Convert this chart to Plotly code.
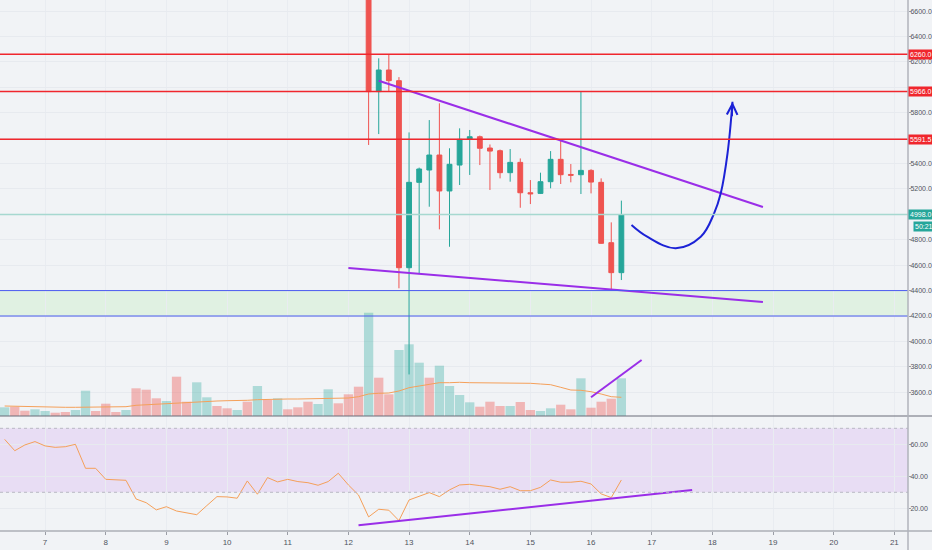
import datetime as dt
import plotly.graph_objects as go

# %% data (4h bars, index 0 = 12 Mar 00:00)
base = dt.datetime(2020, 3, 12)

candle_start = 2
c_open = [6950, 5966, 6136, 6052, 4580, 5252, 5349, 5467, 5184, 5388, 5590, 5611, 5522,
          5501, 5328, 5409, 5170, 5165, 5257, 5433, 5314, 5312, 5346, 5252, 4777, 4541]
c_high = [7000, 6228, 6262, 6080, 5645, 5368, 5742, 5874, 5520, 5677, 5664, 5620, 5550,
          5510, 5514, 5440, 5270, 5328, 5498, 5580, 5396, 5966, 5355, 5283, 4937, 5108]
c_low = [5546, 5632, 5970, 4418, 3740, 4536, 5060, 4882, 4745, 5231, 5310, 5388, 5192,
         5283, 5257, 5052, 5081, 5160, 5205, 5239, 5252, 5160, 5165, 4768, 4410, 4483]
c_close = [5966, 6136, 6052, 4580, 5252, 5357, 5467, 5184, 5394, 5590, 5611, 5520, 5498,
           5328, 5409, 5170, 5162, 5257, 5433, 5312, 5308, 5346, 5254, 4772, 4541, 4998]

vol_start = -34
volume = [8.7, 9.3, 5.3, 6.7, 5.0, 3.3, 4.0, 6.0, 25.3, 5.0, 12.3, 4.0, 6.0, 27.7, 26.3,
          17.7, 15.0, 39.3, 14.3, 33.7, 18.7, 10.0, 7.7, 6.0, 14.3, 30.0, 16.0, 17.7, 6.7,
          8.7, 14.3, 12.0, 26.7, 12.7, 21.7, 29.3, 103.3, 38.3, 21.7, 66.0, 71.7, 53.3, 38.3,
          50.3, 30.0, 21.0, 13.7, 9.3, 14.3, 10.0, 10.0, 14.0, 6.0, 5.0, 7.7, 11.3, 6.7, 37.7,
          8.3, 14.3, 17.3, 37.7]
vol_up = "gurggrrggrrrgrrrgrrggrrgrgrgrrrggrrrgrrgggrggggrrrgrrggrrgrrrg"
vol_ma = [10.0, 9.7, 9.3, 9.0, 9.0, 8.7, 8.7, 8.7, 8.7, 8.7, 8.7, 8.7, 9.3, 10.7, 11.3,
          11.7, 12.7, 13.0, 13.3, 14.0, 14.7, 15.0, 15.3, 15.3, 15.7, 16.3, 16.7, 17.0, 17.0,
          17.0, 17.3, 17.3, 17.7, 18.0, 18.0, 19.3, 22.0, 22.7, 23.0, 25.0, 28.3, 30.0, 32.0,
          33.3, 33.3, 33.7, 33.3, 33.3, 33.3, 33.3, 32.7, 32.7, 32.7, 32.0, 31.3, 28.7, 26.0,
          25.7, 24.3, 22.0, 19.3, 18.7]
rsi = [63.1, 56.0, 59.6, 61.7, 59.0, 58.1, 58.5, 60.0, 45.0, 45.0, 38.1, 37.7, 37.5, 25.8,
       23.5, 19.0, 21.0, 18.3, 17.1, 16.0, 21.7, 27.3, 27.1, 26.3, 37.1, 28.8, 39.2, 36.5,
       38.1, 36.7, 36.0, 34.4, 36.7, 41.9, 34.6, 28.3, 14.6, 19.4, 18.8, 12.3, 25.2, 27.3,
       29.8, 27.3, 31.5, 34.6, 35.0, 34.2, 33.5, 31.9, 33.5, 31.0, 31.0, 33.1, 37.7, 36.3,
       36.3, 36.9, 35.2, 29.0, 26.7, 37.7]

levels_red = [6260.0, 5966.0, 5591.5]
last_price = 4998.0
countdown = "50:21"
zone = [4200.0, 4400.0]
price_ticks = [3600, 3800, 4000, 4200, 4400, 4600, 4800, 5000, 5200, 5400, 5600, 5800,
               6000, 6200, 6400, 6600]
hidden_ticks = [6000]  # covered by the 5966.0 label on the original
rsi_ticks = [20, 40, 60]
rsi_band = [30, 70]
tick_days = list(range(7, 22))

# drawings: (bar index, value) pairs
wedge_top = [(3.0, 6052), (41.0, 5058)]
wedge_bottom = [(0.0, 4578), (41.0, 4310)]
vol_trend = [(24.0, 18.7), (29.0, 56.0)]
rsi_trend = [(1.0, 9.4), (34.0, 31.4)]
arrow_idx = [28.0, 29.55, 32.38, 34.85, 36.17, 36.83, 37.5, 37.99]
arrow_px = [4916, 4824, 4733, 4824, 5008, 5166, 5480, 5886]


def t(i):
    return base + dt.timedelta(hours=4 * i)


UP = "#26a69a"
DOWN = "#ef5350"
BG = "#f1f3f6"
FONT = "Liberation Sans Narrow, Liberation Sans, sans-serif"

c_x = [t(candle_start + k) for k in range(len(c_open))]
v_x = [t(vol_start + k) for k in range(len(volume))]
v_col = ["rgba(38,166,154,0.33)" if d == "g" else "rgba(239,83,80,0.38)" for d in vol_up]

fig = go.Figure()
fig.add_trace(go.Bar(x=v_x, y=volume, marker_color=v_col, marker_line_width=0,
                     width=4 * 3600 * 1000 * 0.92, xaxis="x", yaxis="y"))
fig.add_trace(go.Scatter(x=v_x, y=vol_ma, mode="lines", line=dict(color="#f5a05a", width=1),
                         xaxis="x", yaxis="y"))
fig.add_trace(go.Scatter(x=[t(p[0]) for p in vol_trend], y=[p[1] for p in vol_trend],
                         mode="lines", line=dict(color="#9a2ee8", width=2), xaxis="x", yaxis="y"))
fig.add_trace(go.Candlestick(x=c_x, open=c_open, high=c_high, low=c_low, close=c_close,
                             xaxis="x", yaxis="y3", whiskerwidth=0,
                             increasing=dict(line=dict(color=UP, width=1), fillcolor=UP),
                             decreasing=dict(line=dict(color=DOWN, width=1), fillcolor=DOWN)))
for tr in (wedge_top, wedge_bottom):
    fig.add_trace(go.Scatter(x=[t(p[0]) for p in tr], y=[p[1] for p in tr], mode="lines",
                             line=dict(color="#9a2ee8", width=2), xaxis="x", yaxis="y3"))
fig.add_trace(go.Scatter(x=[t(i) for i in arrow_idx], y=arrow_px, mode="lines",
                         line=dict(color="#1c22d6", width=2, shape="spline", smoothing=1.1),
                         xaxis="x", yaxis="y3"))
fig.add_trace(go.Scatter(x=v_x, y=rsi, mode="lines", line=dict(color="#f5a05a", width=1),
                         xaxis="x", yaxis="y2"))
fig.add_trace(go.Scatter(x=[t(p[0]) for p in rsi_trend], y=[p[1] for p in rsi_trend],
                         mode="lines", line=dict(color="#9a2ee8", width=2), xaxis="x", yaxis="y2"))

split = 1 - 416 / 531
shapes = []
shapes.append(dict(type="rect", xref="x domain", yref="y3", x0=0, x1=1, y0=zone[0], y1=zone[1],
                   fillcolor="#e0f1e2", line_width=0, layer="below"))
for z in zone:
    shapes.append(dict(type="line", xref="x domain", yref="y3", x0=0, x1=1, y0=z, y1=z,
                       line=dict(color="#4a5af0", width=1)))
for lv in levels_red:
    shapes.append(dict(type="line", xref="x domain", yref="y3", x0=0, x1=1, y0=lv, y1=lv,
                       line=dict(color="#f0262d", width=1.5)))
shapes.append(dict(type="line", xref="x domain", yref="y3", x0=0, x1=1, y0=last_price,
                   y1=last_price, line=dict(color="#a6d8d0", width=1.5)))
shapes.append(dict(type="rect", xref="x domain", yref="y2", x0=0, x1=1, y0=rsi_band[0],
                   y1=rsi_band[1], fillcolor="#e8ddf4", line_width=0, layer="below"))
for b in rsi_band:
    shapes.append(dict(type="line", xref="x domain", yref="y2", x0=0, x1=1, y0=b, y1=b,
                       line=dict(color="#b8b8c4", width=1, dash="dot")))
shapes.append(dict(type="line", xref="paper", yref="paper", x0=0, x1=1.03, y0=split, y1=split,
                   line=dict(color="#6a6d78", width=1.2)))
shapes.append(dict(type="line", xref="paper", yref="paper", x0=0, x1=1.03, y0=0, y1=0,
                   line=dict(color="#8a8d96", width=1.2)))
shapes.append(dict(type="line", xref="paper", yref="paper", x0=1, x1=1, y0=-0.04, y1=1,
                   line=dict(color="#b0b3bb", width=1.5)))

lab_font = dict(color="white", size=7, family=FONT)
ann = []
for lv in levels_red:
    ann.append(dict(xref="paper", yref="y3", x=1.0, y=lv, xanchor="left", yanchor="middle",
                    text=f"{lv:.1f}", showarrow=False, bgcolor="#f0262d", borderpad=1,
                    font=lab_font))
ann.append(dict(xref="paper", yref="y3", x=1.0, y=last_price, xanchor="left", yanchor="middle",
                text=f"{last_price:.1f}", showarrow=False, bgcolor=UP, borderpad=1,
                font=lab_font))
ann.append(dict(xref="paper", yref="y3", x=1.005, y=last_price, yshift=-12, xanchor="left",
                yanchor="middle", text=countdown, showarrow=False, bgcolor=UP, borderpad=1,
                font=lab_font))
ann.append(dict(xref="x", yref="y3", x=t(arrow_idx[-1]), y=arrow_px[-1], axref="x", ayref="y3",
                ax=t(arrow_idx[-2] + 0.45), ay=arrow_px[-2] + 280, text="", showarrow=True,
                arrowhead=5, arrowsize=1.3, arrowwidth=1.6, arrowcolor="#1c22d6"))

axis_font = dict(size=7, color="#50535e", family=FONT)
fig.update_layout(
    width=932, height=550,
    margin=dict(l=0, r=24, t=0, b=19),
    paper_bgcolor=BG, plot_bgcolor=BG,
    showlegend=False, bargap=0.08, boxgap=0.32,
    shapes=shapes, annotations=ann,
    xaxis=dict(anchor="y2", range=[t(-34.46), t(55.35)], rangeslider=dict(visible=False),
               tickvals=[dt.datetime(2020, 3, d) for d in tick_days],
               ticktext=[str(d) for d in tick_days], ticks="outside", ticklen=3,
               tickcolor="#9a9da5", tickfont=dict(size=8, color="#50535e", family=FONT),
               showgrid=True, gridcolor="#e9ecf1", zeroline=False, showline=False),
    yaxis=dict(domain=[split, 1], range=[0, 416], visible=False, showgrid=False),
    yaxis3=dict(overlaying="y", side="right", range=[3413, 6687], tickvals=price_ticks,
                ticktext=["" if p in hidden_ticks else f"{p:.1f}" for p in price_ticks],
                ticks="outside", ticklen=2, tickcolor="#9a9da5",
                tickfont=axis_font, showgrid=True, gridcolor="#e7eaef", zeroline=False,
                automargin=False, ticklabelstandoff=-2),
    yaxis2=dict(domain=[0, split], range=[5.8, 77.7], side="right", tickvals=rsi_ticks,
                tickformat=".2f", ticks="outside", ticklen=2, tickcolor="#9a9da5",
                tickfont=axis_font, showgrid=True, gridcolor="#e7eaef", zeroline=False,
                automargin=False, ticklabelstandoff=-2),
)

# page body has an 8px default margin; drop it so the figure fills the window
fig.write_html("out.html", config={"displayModeBar": False},
               post_script="document.body.style.margin='0';"
                           "document.body.style.background='" + BG + "';")
